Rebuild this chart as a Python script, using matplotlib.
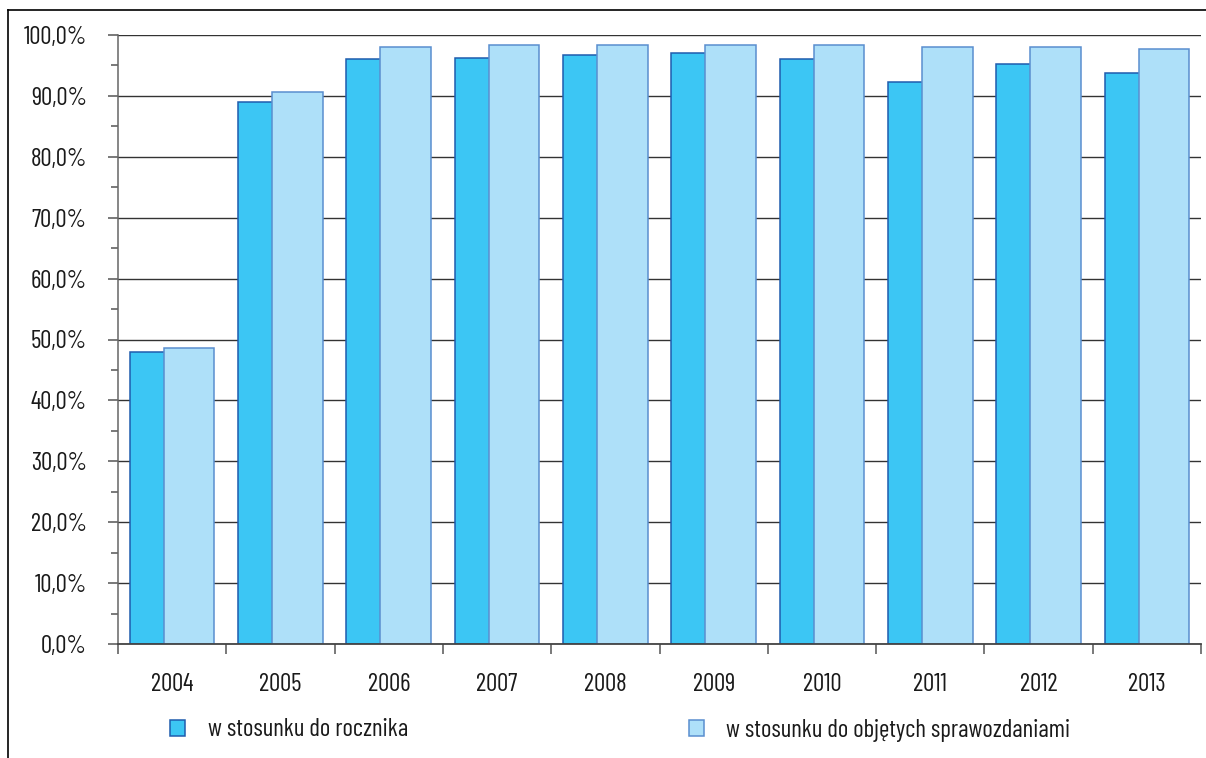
import matplotlib
matplotlib.use('Agg')
import matplotlib.pyplot as plt
import numpy as np
from matplotlib.patches import Patch
from matplotlib.lines import Line2D
from matplotlib.ticker import FuncFormatter, MultipleLocator

years = ['2004', '2005', '2006', '2007', '2008', '2009', '2010', '2011', '2012', '2013']
rocznik = [48.0, 89.0, 96.0, 96.3, 96.7, 97.0, 96.0, 92.3, 95.3, 93.7]
objete = [48.6, 90.7, 98.0, 98.4, 98.4, 98.4, 98.4, 98.0, 98.0, 97.7]

label_rocznik = 'w stosunku do rocznika'
label_objete = 'w stosunku do objętych sprawozdaniami'

# narrow font like the original, DejaVu as a fallback
plt.rcParams['font.family'] = ['Barlow Condensed', 'DejaVu Sans']
fs = 18
txt = '#1a1a1a'

dark_fill, dark_edge = '#3cc6f4', '#1f5cae'
light_fill, light_edge = '#aee0f9', '#5a8ecf'

W, H = 1206, 758
fig = plt.figure(figsize=(W / 100, H / 100), dpi=100)
ax = fig.add_axes([118 / W, 114 / H, (1201 - 118) / W, (644 - 35) / H])

x = np.arange(len(years))
w = 0.468
off = 0.157
ax.bar(x - off, rocznik, w, color=dark_fill, edgecolor=dark_edge, linewidth=1.1, zorder=3)
ax.bar(x + off, objete, w, color=light_fill, edgecolor=light_edge, linewidth=1.1, zorder=4)

ax.set_xlim(-0.5, len(years) - 0.5)
ax.set_ylim(0, 100)

ax.yaxis.set_major_locator(MultipleLocator(10))
ax.yaxis.set_minor_locator(MultipleLocator(5))
ax.yaxis.set_major_formatter(FuncFormatter(lambda v, p: ('%.1f%%' % v).replace('.', ',')))
ax.grid(axis='y', which='major', color='#333333', linewidth=1.0, zorder=0)
ax.tick_params(axis='y', which='major', length=7, width=1.1, color='#555555',
               labelsize=fs, pad=15.5, labelcolor=txt)
ax.tick_params(axis='y', which='minor', length=5, width=1.1, color='#555555')

ax.set_xticks(np.arange(-0.5, len(years), 1.0))
ax.set_xticklabels([])
ax.set_xticks(x, minor=True)
ax.set_xticklabels(years, minor=True)
ax.tick_params(axis='x', which='major', length=7, width=1.1, color='#555555')
ax.tick_params(axis='x', which='minor', length=0, labelsize=fs, pad=21, labelcolor=txt)

for s in ['top', 'right']:
    ax.spines[s].set_visible(False)
ax.spines['left'].set_color('#666666')
ax.spines['left'].set_linewidth(1.1)
ax.spines['bottom'].set_color('#444444')
ax.spines['bottom'].set_linewidth(1.3)
ax.spines['bottom'].set_zorder(5)

# outer frame
fig.add_artist(Line2D([8 / W, 8 / W], [0, 1 - 10 / H], color='black', linewidth=1.2))
fig.add_artist(Line2D([8 / W, 1], [1 - 10 / H, 1 - 10 / H], color='black', linewidth=1.2))

for fill, edge, lab, xpos in [(dark_fill, dark_edge, label_rocznik, 170),
                              (light_fill, light_edge, label_objete, 689)]:
    h = Patch(facecolor=fill, edgecolor=edge, linewidth=1.1)
    leg = fig.legend([h], [lab], loc='center left', bbox_to_anchor=(xpos / W, 1 - 730 / H),
                     frameon=False, fontsize=fs, handlelength=0.6, handleheight=0.6,
                     handletextpad=0.9, borderpad=0, borderaxespad=0)
    for t in leg.get_texts():
        t.set_color(txt)

fig.savefig('out.png', dpi=100)
